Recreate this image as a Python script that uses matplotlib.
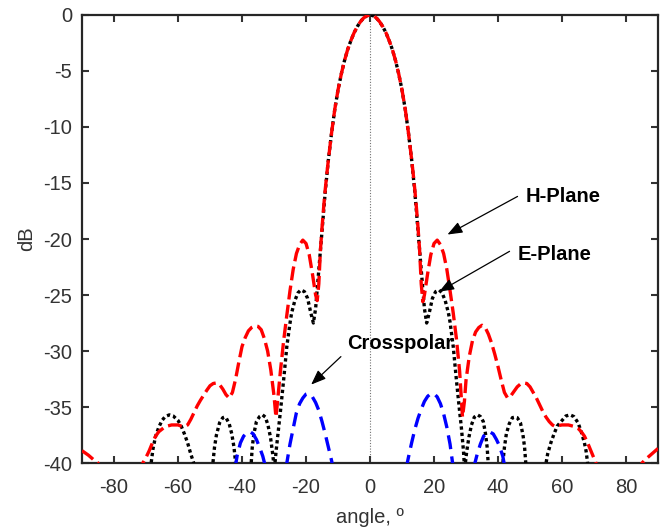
import numpy as np
import matplotlib
matplotlib.use("Agg")
import matplotlib.pyplot as plt

plt.rcParams['font.family'] = ['Liberation Sans', 'DejaVu Sans']
plt.rcParams['axes.unicode_minus'] = False

# ---------------- data ----------------
h_angle = [-90, -88, -86, -85, -84, -80, -75, -72, -71, -70, -69, -68, -67, -66, -64, -62,
           -60, -59, -58, -57, -56, -55, -54, -53, -52, -51, -50, -49, -48, -47, -46, -45,
           -44, -43, -42, -41, -40, -39, -38, -37, -36, -35, -34, -33, -32, -31, -30,
           -29.4, -29, -28, -27, -26, -25, -24, -23, -22, -21, -20, -19, -18, -17, -16.5,
           -16, -15.5, -15, -14.5, -14, -13.5, -13, -12, -11, -10, -9, -8, -7, -6, -5, -4,
           -3, -2, -1, 0,
           1, 2, 3, 4, 5, 6, 7, 8, 9, 10, 11, 12, 13, 13.5, 14, 14.5, 15, 15.5, 16, 16.5,
           17, 18, 19, 20, 21, 22, 23, 24, 25, 26, 27, 28, 28.9, 29.5, 30, 31, 32, 33, 34,
           35, 36, 37, 38, 39, 40, 41, 42, 43, 44, 45, 46, 47, 48, 49, 50, 51, 52, 53, 54,
           55, 56, 57, 58, 59, 60, 62, 64, 65, 66, 67, 68, 69, 70, 70.6, 72, 76, 82, 84,
           85, 86, 88, 90]
h_db = [-38.9, -39.3, -39.8, -40.0, -41.0, -50, -50, -41.2, -40.0, -39.5, -38.9, -38.2, -37.6,
        -37.2, -36.75, -36.6,
        -36.6, -36.7, -36.75, -36.6, -36.1, -35.5, -34.9, -34.4, -33.95, -33.5, -33.1, -32.9,
        -32.85, -33.0, -33.4, -33.9,
        -34.2, -33.7, -32.5, -31.0, -29.6, -28.8, -28.2, -27.9, -27.75, -27.8, -28.1, -28.9,
        -30.0, -31.7, -34.0,
        -35.9, -34.8, -31.8, -29.1, -26.8, -24.6, -22.7, -21.3, -20.5, -20.1, -20.4, -21.4,
        -23.1, -25.0, -25.5,
        -24.0, -21.0, -19.0, -17.2, -15.6, -14.2, -12.9, -10.5, -8.4, -6.7, -5.3, -4.1, -3.1,
        -2.3, -1.6, -1.05, -0.6, -0.27, -0.07, 0.0,
        -0.07, -0.27, -0.6, -1.05, -1.6, -2.3, -3.1, -4.1, -5.3, -6.7, -8.4, -10.5, -12.9,
        -14.2, -15.6, -17.2, -19.0, -21.0, -24.0, -25.6,
        -25.0, -23.1, -21.4, -20.4, -20.1, -20.5, -21.3, -22.7, -24.6, -26.6, -28.9, -31.8,
        -35.9, -34.5, -32.6, -30.5, -29.1, -28.3, -27.9,
        -27.7, -27.9, -28.5, -29.3, -30.3, -31.4, -32.6, -33.7, -34.2, -34.0, -33.6, -33.2,
        -32.95, -32.85, -32.9, -33.2, -33.7, -34.2, -34.8, -35.4,
        -35.9, -36.3, -36.6, -36.75, -36.65, -36.6, -36.6, -36.75, -36.9, -37.2, -37.6,
        -38.2, -38.9, -39.6, -40.0, -42, -50, -50, -42,
        -40.0, -39.7, -39.2, -38.7]

e_angle = [-90, -75, -69, -68.4, -67.8, -67, -66, -65, -64, -62.7, -61.5, -60, -59, -58,
           -57, -56, -55.2, -54.7, -54, -52, -49.8, -49.2, -48.6, -48, -47, -46, -45.5,
           -45, -44, -43.2, -42.5, -41.9, -41.3, -39.5, -37.8, -37.2, -36.8, -36.3,
           -35.5, -34.5, -33.6, -32.7, -31.9, -31.1, -30.5, -29.9, -29.85,
           -29.8, -29.3, -28.5, -28, -27, -26, -25, -24.5, -23.5, -22.5, -21.6, -20.5,
           -19.5, -18.5, -17.7, -17, -16, -15, -14, -13, -12, -11, -10, -9, -8, -7, -6,
           -5, -4, -3, -2, -1, 0,
           1, 2, 3, 4, 5, 6, 7, 8, 9, 10, 11, 12, 13, 14, 15, 16, 17, 17.7, 18.5, 19.5,
           20.5, 21.6, 22.5, 23.5, 24.5, 25, 26, 27, 28, 28.5, 29.2, 29.5,
           29.55, 29.6, 30.2, 30.9, 31.7, 32.6, 33.6, 34.5, 35.4, 36.1, 36.6, 37.0, 37.5,
           39.4, 40.9, 41.4, 42.0, 42.6, 43.5, 44.5, 45.3, 46.0, 47.0, 47.8, 48.3, 48.75,
           49.3, 52, 54.2, 54.7, 55.5, 56.5, 57.5, 58.5, 60, 61.2, 62.5, 63.7, 65, 66, 67,
           67.5, 68, 68.6, 75, 90]
e_db = [-70, -60, -45, -40.0, -38.7, -37.6, -36.8, -36.2, -35.85, -35.7, -35.8, -36.2,
        -36.7, -37.4, -38.2, -39.2, -39.9, -40.5, -44, -55, -44, -40.3, -38.6, -37.5,
        -36.4, -35.95, -35.9, -35.95, -36.5, -37.4, -38.6, -40.3, -44, -55, -44, -40.3,
        -38.6, -37.4, -36.3, -35.85, -35.7, -35.9, -36.6, -37.7, -39.0, -40.5, -60,
        -40.3, -38.8, -36.7, -35.4, -32.6, -29.6, -27.5, -26.6, -25.5, -24.8, -24.55, -24.7,
        -25.3, -26.6, -27.5, -26.2, -22.8, -19.3, -15.8, -12.9, -10.5, -8.4, -6.7, -5.3,
        -4.1, -3.1, -2.3, -1.6, -1.05, -0.6, -0.27, -0.07, 0.0,
        -0.07, -0.27, -0.6, -1.05, -1.6, -2.3, -3.1, -4.1, -5.3, -6.7, -8.4, -10.5, -12.9,
        -15.8, -19.3, -22.8, -26.2, -27.5, -26.6, -25.3,
        -24.7, -24.55, -24.8, -25.5, -26.6, -27.4, -29.6, -32.6, -35.4, -36.7, -38.9, -40.3,
        -60, -40.5, -39.0, -37.7, -36.6, -35.9, -35.7, -35.85, -36.3, -37.4, -38.6, -40.3,
        -44, -55, -44, -40.3, -38.6, -37.4, -36.5, -35.95, -35.9, -35.95, -36.4, -37.5,
        -38.6, -40.3, -44, -55, -44, -40.5, -39.2, -38.2, -37.4, -36.7, -36.2, -35.8, -35.7,
        -35.85, -36.4, -37.2, -38.2, -38.9, -40.0, -45, -60, -70]

x_angle = [-90, -60, -46, -43, -42.2, -41.5, -40.5, -39.5, -38.5, -37.5, -36.5, -35.5,
           -34.5, -33.5, -32.8, -32, -29, -27, -26, -25, -24, -23, -22, -21, -20, -19.5,
           -19, -18, -17, -16, -15, -14, -13, -12, -11.5, -10.5, 0, 10.5, 11.5, 12, 13,
           14, 15, 16, 17, 18, 19, 20, 21, 22, 23, 24, 25, 25.8, 26.5, 29, 32, 32.6, 33.5,
           34.5, 35.5, 36.5, 37.3, 38.5, 39.5, 40.5, 41.5, 42.2, 43, 46, 60, 90]
x_db = [-60, -55, -50, -43, -40.5, -39.3, -38.2, -37.6, -37.3, -37.2, -37.4, -37.9, -38.6,
        -39.4, -40.2, -42, -50, -43, -40.0, -38.3, -36.9, -35.5, -34.7, -34.2, -33.85, -33.8,
        -33.85, -34.1, -34.6, -35.3, -36.3, -37.4, -38.6, -39.8, -40.5, -43, -60, -43, -40.2,
        -39.5, -38.2, -37.0, -36.0, -35.2, -34.5, -34.05, -33.8, -33.8, -34.1, -34.7, -35.6,
        -36.8, -38.3, -40.0, -42, -50, -42, -40.2, -39.2, -38.3, -37.6, -37.3, -37.2, -37.4,
        -37.9, -38.5, -39.4, -40.5, -43, -50, -55, -60]

x_ticks = [-80, -60, -40, -20, 0, 20, 40, 60, 80]
y_ticks = [0, -5, -10, -15, -20, -25, -30, -35, -40]

# ---------------- figure ----------------
fig = plt.figure(figsize=(6.63, 5.31), dpi=100)
ax = fig.add_axes([0.1237, 0.128, 0.8688, 0.8438])

ax.axvline(0, color='0.45', lw=0.8, ls=(0, (1, 1.5)), zorder=1)

ax.plot(e_angle, e_db, color='black', lw=2.4, ls=(0, (1, 0.9)), zorder=3)
ax.plot(h_angle, h_db, color='red', lw=2.4, ls=(0, (4.2, 1.6)), zorder=4)
ax.plot(x_angle, x_db, color='blue', lw=2.4, ls=(0, (4.2, 2.2)), zorder=4)

ax.set_xlim(-90, 90)
ax.set_ylim(-40, 0)
ax.set_xticks(x_ticks)
ax.set_yticks(y_ticks)
ax.tick_params(direction='in', length=5, width=1.5, top=True, right=True,
               labelsize=14.5, colors='0.2')
ax.tick_params(axis='x', pad=11)
ax.tick_params(axis='y', pad=7)
for s in ax.spines.values():
    s.set_linewidth(1.6)
    s.set_color('0.15')

ax.set_xlabel('angle, º', fontsize=14.5, color='0.2', labelpad=8)
ax.set_ylabel('dB', fontsize=14.5, color='0.2', labelpad=5)

arrow = dict(arrowstyle='-|>,head_length=0.9,head_width=0.35', color='black', lw=0.9,
             shrinkA=0, shrinkB=0)
ax.annotate('', xy=(24.2, -19.6), xytext=(46.1, -16.2), arrowprops=arrow, zorder=6)
ax.text(48.6, -16.2, 'H-Plane', fontsize=14.5, fontweight='bold', va='center', ha='left')
ax.annotate('', xy=(21.6, -24.7), xytext=(43.6, -21.1), arrowprops=arrow, zorder=6)
ax.text(46.1, -21.35, 'E-Plane', fontsize=14.5, fontweight='bold', va='center', ha='left')
ax.annotate('', xy=(-18.4, -33.0), xytext=(-9.1, -30.5), arrowprops=arrow, zorder=6)
ax.text(-7.3, -29.3, 'Crosspolar', fontsize=14.5, fontweight='bold', va='center', ha='left')

fig.savefig('out.png', dpi=100)
